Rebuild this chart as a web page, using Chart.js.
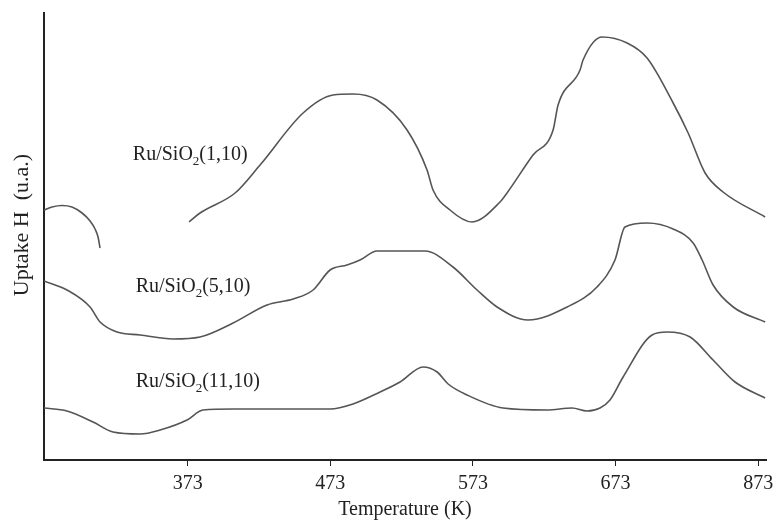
<!DOCTYPE html>
<html>
<head>
<meta charset="utf-8">
<script src="https://cdn.jsdelivr.net/npm/chart.js@4"></script>
<style>
  html, body { margin: 0; padding: 0; background: #fff; }
  #wrap { width: 775px; height: 520px; }
</style>
</head>
<body>
<div id="wrap"><canvas id="tpd"></canvas></div>
<script>
(function () {
    // Temperaturas (K) y señal de cada perfil
    const tempsArc = [272.2, 277.8, 284.8, 291.8, 298.9, 304.5, 308.0, 310.1, 311.5];
    const valuesArc = [250, 253, 254.5, 253, 247, 239, 231, 223, 212];

    const temps1 = [373.9, 381.6, 406.2, 423.7, 453.9, 474.9, 489.0, 505.7, 526.8, 540.8, 545.0, 556.9, 572.4, 592.0,
        596.9, 615.1, 629.2, 632.7, 648.1, 650.2, 663.6, 681.1, 695.1, 713.4, 723.9, 735.8, 748.4, 777.9];
    const values1 = [238, 247, 267, 295, 347, 365, 366, 360, 330, 290, 270, 250, 238, 258,
        267, 305, 330, 355, 390, 400, 423, 417, 402, 357, 327, 287, 268, 243];

    const temps5 = [272.2, 288.3, 304.5, 311.5, 323.4, 339.5, 362.7, 381.6, 404.8, 428.6, 446.9, 460.9, 472.8, 484.7,
        493.8, 505.7, 539.4, 559.0, 575.9, 589.9, 611.6, 639.0, 660.0, 672.6, 679.6, 695.1, 713.4, 727.4,
        733.7, 741.4, 755.5, 777.9];
    const values5 = [179, 170, 153, 138, 128, 125, 121, 123, 137, 155, 161, 170, 190, 195,
        200, 209, 209, 193, 170, 153, 140, 153, 173, 200, 233, 237, 231, 217,
        200, 175, 153, 138];

    const temps11 = [272.2, 288.3, 306.6, 320.6, 339.5, 353.6, 372.5, 383.7, 404.8, 439.8, 472.8, 488.9, 507.9, 521.9,
        538.0, 547.9, 555.6, 568.9, 594.1, 625.0, 642.5, 653.0, 662.1, 669.1, 678.3, 698.6, 709.1, 725.3,
        741.4, 756.8, 777.9];
    const values11 = [52, 49, 38, 28, 26, 30, 40, 50, 51, 51, 51, 56, 68, 78,
        93, 88, 76, 65, 52, 50, 52, 49, 52, 60, 83, 125, 128, 123,
        100, 78, 62];

    // Marcas del eje x y sus textos
    const tickValues = [373, 473, 573, 673, 773];
    const tickLabels = ['373', '473', '573', '673', '873'];

    // Etiquetas de cada muestra: texto, subíndice y posición en coordenadas de datos
    const sampleLabels = [
        { pre: 'Ru/SiO', sub: '2', post: '(1,10)', t: 334.5, v: 305 },
        { pre: 'Ru/SiO', sub: '2', post: '(5,10)', t: 336.5, v: 173 },
        { pre: 'Ru/SiO', sub: '2', post: '(11,10)', t: 336.5, v: 78 }
    ];

    const lineColor = '#555';
    const inkColor = '#222';
    const serif = '"Liberation Serif", "DejaVu Serif", serif';

    function toPoints(xs, ys) {
        return xs.map((x, i) => ({ x: x, y: ys[i] }));
    }

    function serie(xs, ys) {
        return {
            data: toPoints(xs, ys),
            borderColor: lineColor,
            borderWidth: 1.6,
            pointRadius: 0,
            fill: false,
            cubicInterpolationMode: 'monotone'
        };
    }

    // Textos sobre el gráfico: etiquetas de muestras y título del eje y
    const textos = {
        id: 'textos',
        afterDraw(chart) {
            const ctx = chart.ctx;
            const xs = chart.scales.x, ys = chart.scales.y;
            ctx.save();
            ctx.fillStyle = inkColor;
            ctx.textBaseline = 'middle';
            ctx.textAlign = 'left';
            sampleLabels.forEach(l => {
                let px = xs.getPixelForValue(l.t);
                const py = ys.getPixelForValue(l.v);
                ctx.font = '20px ' + serif;
                ctx.fillText(l.pre, px, py);
                px += ctx.measureText(l.pre).width;
                ctx.font = '13px ' + serif;
                ctx.fillText(l.sub, px, py + 7);
                px += ctx.measureText(l.sub).width;
                ctx.font = '20px ' + serif;
                ctx.fillText(l.post, px, py);
            });
            ctx.translate(22, 225);
            ctx.rotate(-Math.PI / 2);
            ctx.textAlign = 'center';
            ctx.font = '22px ' + serif;
            ctx.fillText('Uptake H  (u.a.)', 0, 0);
            ctx.restore();
        }
    };

    const ctx = document.getElementById('tpd').getContext('2d');
    new Chart(ctx, {
        type: 'line',
        data: {
            datasets: [
                serie(tempsArc, valuesArc),
                serie(temps1, values1),
                serie(temps5, values5),
                serie(temps11, values11)
            ]
        },
        options: {
            responsive: true,
            maintainAspectRatio: false,
            animation: false,
            layout: { padding: { top: 13, right: 9, left: 0, bottom: 0 } },
            plugins: {
                legend: { display: false },
                tooltip: { enabled: false }
            },
            scales: {
                x: {
                    type: 'linear',
                    min: 272.2,
                    max: 778.5,
                    afterBuildTicks(scale) {
                        scale.ticks = tickValues.map(v => ({ value: v }));
                    },
                    afterFit(scale) {
                        scale.height = 60;
                        scale.paddingLeft = 0;
                        scale.paddingRight = 0;
                    },
                    border: { color: inkColor, width: 2 },
                    grid: { drawOnChartArea: false, drawTicks: true, tickLength: 6, color: inkColor },
                    ticks: {
                        color: inkColor,
                        font: { family: serif, size: 20 },
                        padding: 6,
                        maxRotation: 0,
                        callback: (v) => tickLabels[tickValues.indexOf(v)]
                    },
                    title: {
                        display: true,
                        text: 'Temperature (K)',
                        color: inkColor,
                        font: { family: serif, size: 20 },
                        padding: { top: 0, bottom: -2 }
                    }
                },
                y: {
                    min: 0,
                    max: 447,
                    afterFit(scale) { scale.width = 44; },
                    border: { color: inkColor, width: 2 },
                    grid: { display: false, drawTicks: false },
                    ticks: { display: false }
                }
            }
        },
        plugins: [textos]
    });
})();
</script>
</body>
</html>
